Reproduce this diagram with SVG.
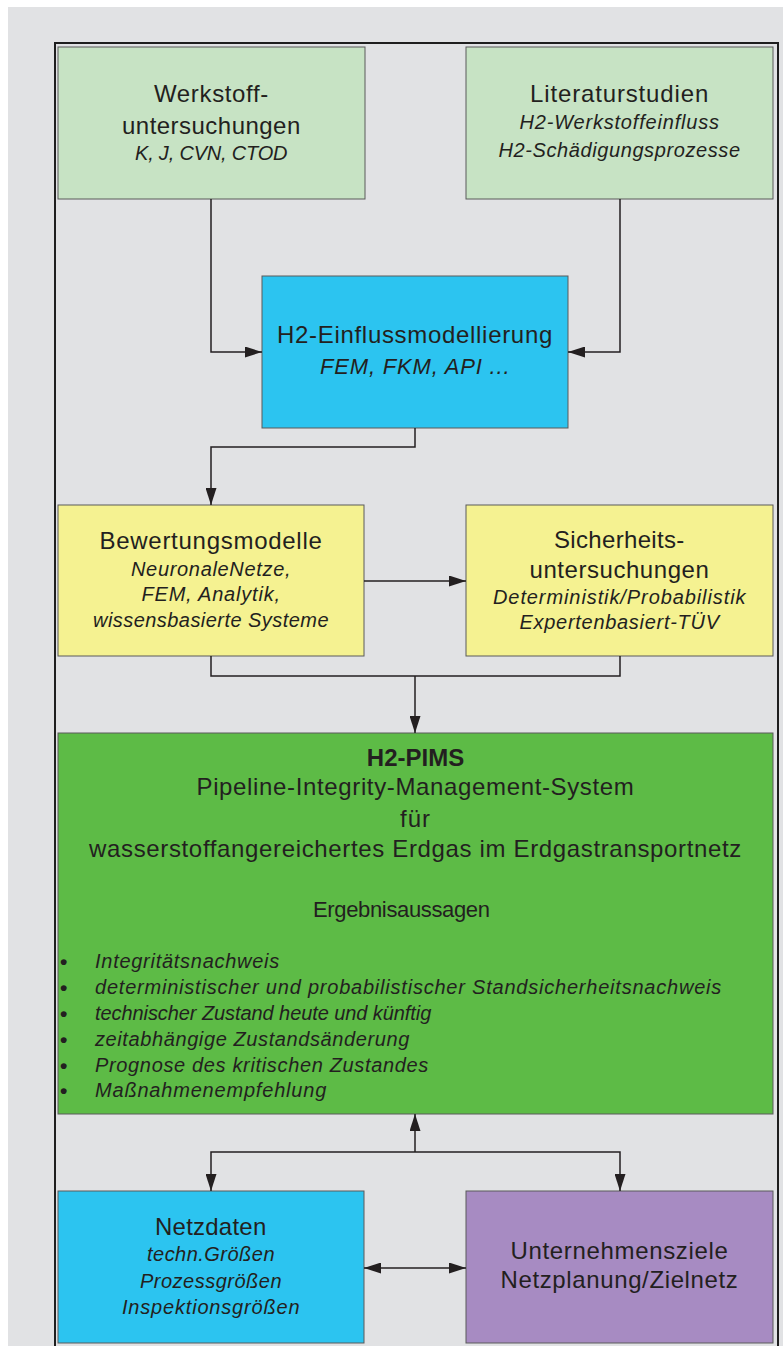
<svg xmlns="http://www.w3.org/2000/svg" width="783" height="1346" viewBox="0 0 783 1346">
<style>
.box{stroke:#5a5a5a;stroke-width:1}
.t{font-family:"Liberation Sans",Arial,sans-serif;font-size:24px;fill:#231f20;text-anchor:middle;letter-spacing:0.7px}
.i{font-family:"Liberation Sans",Arial,sans-serif;font-size:20px;font-style:italic;fill:#231f20;text-anchor:middle;letter-spacing:0.5px}
.b{font-family:"Liberation Sans",Arial,sans-serif;font-size:20px;font-style:italic;fill:#231f20;letter-spacing:0.7px}
.dot{font-family:"Liberation Sans",Arial,sans-serif;font-size:21px;font-weight:bold;fill:#231f20}
.c{fill:none;stroke:#231f20;stroke-width:1.5}
</style>
<defs>
<marker id="arr" viewBox="0 0 17 11" refX="17" refY="5.5" markerWidth="17" markerHeight="11" markerUnits="userSpaceOnUse" orient="auto-start-reverse">
<path d="M0,0 L17,5.5 L0,11 z" fill="#231f20"/>
</marker>
</defs>
<rect x="0" y="0" width="783" height="1346" fill="#ffffff"/>
<rect x="8" y="7" width="775" height="1339" fill="#e1e2e4"/>
<rect x="55" y="43" width="723" height="1330" fill="none" stroke="#1e1e1e" stroke-width="2"/>

<g id="werkstoff">
<rect class="box" x="58" y="47" width="307" height="152" fill="#c7e3c4"/>
<text class="t" x="211.5" y="102" textLength="115">Werkstoff-</text>
<text class="t" x="211.5" y="134" textLength="179">untersuchungen</text>
<text class="i" x="211.5" y="160" textLength="153">K, J, CVN, CTOD</text>
</g>

<g id="literatur">
<rect class="box" x="466" y="47" width="307" height="152" fill="#c7e3c4"/>
<text class="t" x="619.5" y="102" textLength="179">Literaturstudien</text>
<text class="i" x="619.5" y="129" textLength="200">H2-Werkstoffeinfluss</text>
<text class="i" x="619.5" y="157" textLength="242">H2-Schädigungsprozesse</text>
</g>

<g id="einfluss">
<rect class="box" x="262" y="276" width="306" height="152" fill="#2cc4f0"/>
<text class="t" x="415" y="343" textLength="276">H2-Einflussmodellierung</text>
<text class="i" x="415" y="374" style="font-size:22px" textLength="190">FEM, FKM, API ...</text>
</g>

<g id="bewertung">
<rect class="box" x="58" y="505" width="306" height="151" fill="#f5f291"/>
<text class="t" x="211" y="549" textLength="223">Bewertungsmodelle</text>
<text class="i" x="211" y="576" textLength="160">NeuronaleNetze,</text>
<text class="i" x="211" y="601" textLength="139">FEM, Analytik,</text>
<text class="i" x="211" y="627" textLength="236">wissensbasierte Systeme</text>
</g>

<g id="sicherheit">
<rect class="box" x="466" y="505" width="307" height="151" fill="#f5f291"/>
<text class="t" x="619.5" y="548" textLength="131">Sicherheits-</text>
<text class="t" x="619.5" y="578" textLength="180">untersuchungen</text>
<text class="i" x="619.5" y="604" textLength="253">Deterministik/Probabilistik</text>
<text class="i" x="619.5" y="629" textLength="200">Expertenbasiert-TÜV</text>
</g>

<g id="pims">
<rect class="box" x="58" y="733" width="715" height="381" fill="#5dbb46"/>
<text class="t" x="415.5" y="766" style="font-weight:bold;letter-spacing:0">H2-PIMS</text>
<text class="t" x="415.5" y="795" textLength="438">Pipeline-Integrity-Management-System</text>
<text class="t" x="415.5" y="827" style="letter-spacing:1px">für</text>
<text class="t" x="415.5" y="857" textLength="653">wasserstoffangereichertes Erdgas im Erdgastransportnetz</text>
<text class="t" x="401.5" y="917" style="font-size:22px;letter-spacing:0" textLength="177">Ergebnisaussagen</text>
<text class="dot" x="60" y="969">•</text>
<text class="dot" x="60" y="995">•</text>
<text class="dot" x="60" y="1021">•</text>
<text class="dot" x="60" y="1047">•</text>
<text class="dot" x="60" y="1073">•</text>
<text class="dot" x="60" y="1098">•</text>
<text class="b" x="95" y="968" textLength="185">Integritätsnachweis</text>
<text class="b" x="95" y="994" textLength="627">deterministischer und probabilistischer Standsicherheitsnachweis</text>
<text class="b" x="95" y="1020" textLength="337">technischer Zustand heute und künftig</text>
<text class="b" x="95" y="1046" textLength="315">zeitabhängige Zustandsänderung</text>
<text class="b" x="95" y="1072" textLength="334">Prognose des kritischen Zustandes</text>
<text class="b" x="95" y="1097" textLength="232">Maßnahmenempfehlung</text>
</g>

<g id="netzdaten">
<rect class="box" x="58" y="1191" width="306" height="152" fill="#2cc4f0"/>
<text class="t" x="211" y="1235" textLength="112">Netzdaten</text>
<text class="i" x="211" y="1261" textLength="128">techn.Größen</text>
<text class="i" x="211" y="1288" textLength="142">Prozessgrößen</text>
<text class="i" x="211" y="1314" textLength="178">Inspektionsgrößen</text>
</g>

<g id="unternehmen">
<rect class="box" x="466" y="1191" width="307" height="152" fill="#a78bc2"/>
<text class="t" x="619.5" y="1259" textLength="218">Unternehmensziele</text>
<text class="t" x="619.5" y="1288" textLength="238">Netzplanung/Zielnetz</text>
</g>

<g id="connectors">
<path class="c" d="M211,199 V352 H262" marker-end="url(#arr)"/>
<path class="c" d="M620,199 V352 H568" marker-end="url(#arr)"/>
<path class="c" d="M415,428 V447 H211 V505" marker-end="url(#arr)"/>
<path class="c" d="M364,581 H466" marker-end="url(#arr)"/>
<path class="c" d="M211,656 V676 H620 V656"/>
<path class="c" d="M415,676 V733" marker-end="url(#arr)"/>
<path class="c" d="M415,1152 V1114" marker-end="url(#arr)"/>
<path class="c" d="M415,1152 H211 V1191" marker-end="url(#arr)"/>
<path class="c" d="M415,1152 H620 V1191" marker-end="url(#arr)"/>
<path class="c" d="M364,1268 H466" marker-start="url(#arr)" marker-end="url(#arr)"/>
</g>
</svg>
